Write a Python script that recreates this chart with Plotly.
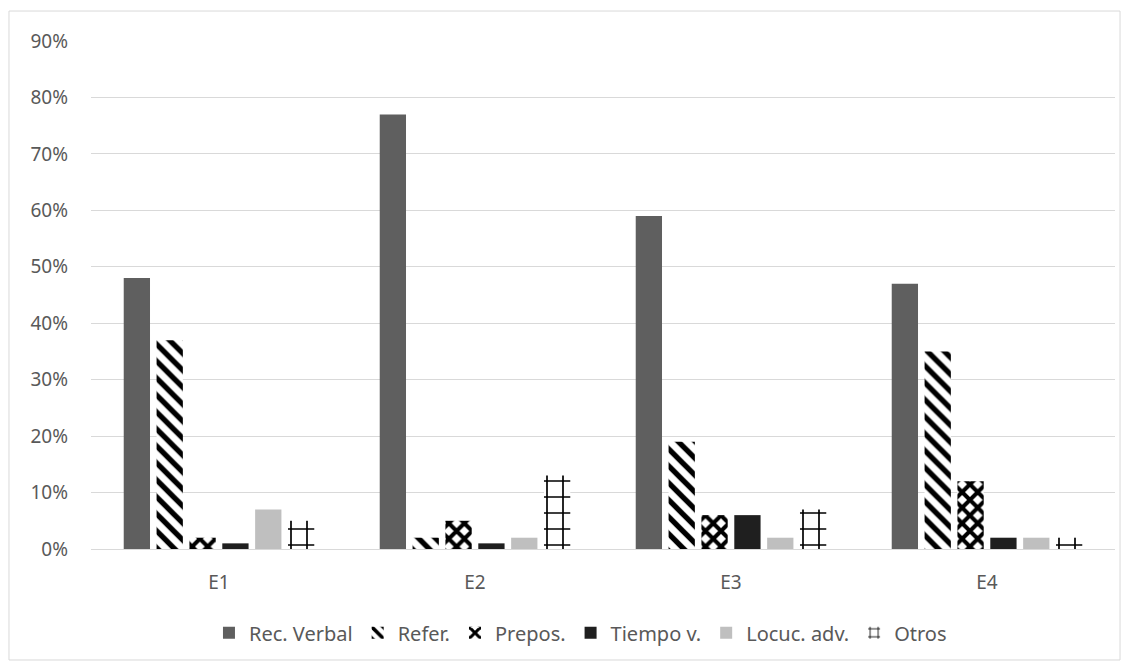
import plotly.graph_objects as go

categories = ["E1", "E2", "E3", "E4"]
rec_verbal = [0.48, 0.77, 0.59, 0.47]
refer = [0.37, 0.02, 0.19, 0.35]
prepos = [0.02, 0.05, 0.06, 0.12]
tiempo_v = [0.01, 0.01, 0.06, 0.02]
locuc_adv = [0.07, 0.02, 0.02, 0.02]
otros = [0.05, 0.13, 0.07, 0.02]
y_ticks = [0, 0.1, 0.2, 0.3, 0.4, 0.5, 0.6, 0.7, 0.8, 0.9]

series = [
    ("Rec. Verbal", rec_verbal, dict(color="#5f5f5f")),
    ("Refer.", refer, dict(color="white", pattern=dict(shape="\\", fgcolor="black", fgopacity=1,
                                                        bgcolor="white", size=12, solidity=0.45))),
    ("Prepos.", prepos, dict(color="white", pattern=dict(shape="x", fgcolor="black", fgopacity=1,
                                                          bgcolor="white", size=11, solidity=0.6))),
    ("Tiempo v.", tiempo_v, dict(color="#1f1f1f")),
    ("Locuc. adv.", locuc_adv, dict(color="#bfbfbf")),
    ("Otros", otros, dict(color="white", pattern=dict(shape="+", fgcolor="black", fgopacity=1,
                                                       bgcolor="white", size=16, solidity=0.2))),
]

fig = go.Figure()
for name, vals, marker in series:
    marker = dict(marker, line=dict(width=0))
    fig.add_trace(go.Bar(name=name, x=categories, y=vals, marker=marker))

font = dict(family="Noto Sans, Open Sans, sans-serif", size=19, color="#595959")
legend_font = dict(family="Noto Sans, Open Sans, sans-serif", size=20, color="#595959")

fig.update_layout(
    width=1129, height=666,
    margin=dict(l=91, r=14, t=41, b=117),
    paper_bgcolor="white", plot_bgcolor="white",
    barmode="group", bargap=0.23, bargroupgap=0.2,
    font=font,
    showlegend=True,
    legend=dict(orientation="h", x=0.478, xanchor="center", y=-0.165, yanchor="middle",
                font=legend_font, itemwidth=30, traceorder="normal"),
    xaxis=dict(showgrid=False, showline=True, linecolor="#d9d9d9", linewidth=1,
               ticks="", tickfont=font, ticklabelstandoff=16),
    yaxis=dict(range=[0, 0.9], tickvals=y_ticks, tickformat=".0%", showgrid=True,
               gridcolor="#d9d9d9", gridwidth=1, zeroline=False, showline=False,
               ticks="", tickfont=font, ticklabelstandoff=22),
    shapes=[dict(type="rect", xref="paper", yref="paper",
                 x0=-0.0801, x1=1.0049, y0=-0.2185, y1=1.059,
                 line=dict(color="#d9d9d9", width=1), fillcolor="rgba(0,0,0,0)")],
)

fig.write_html("out.html")
